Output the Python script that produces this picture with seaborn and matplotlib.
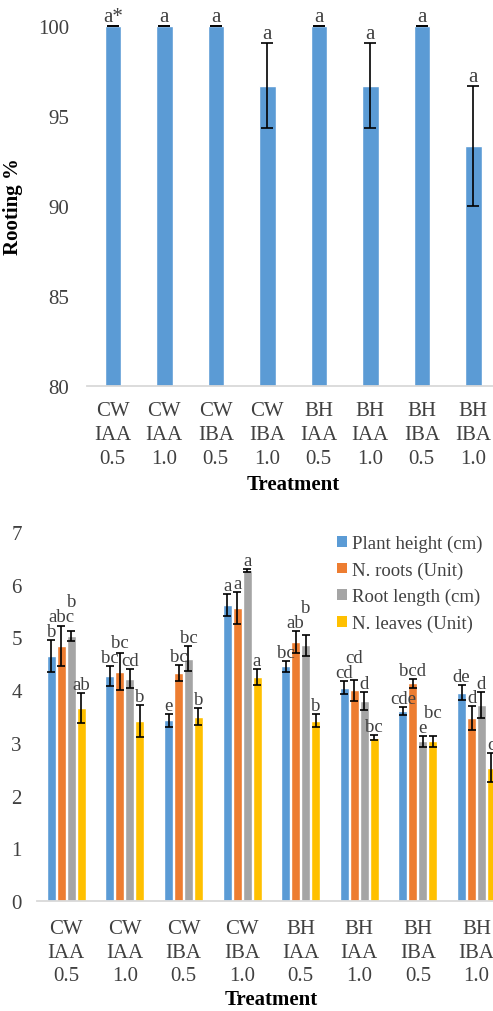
import pandas as pd
import numpy as np
import matplotlib.pyplot as plt
import seaborn as sns
from matplotlib.patches import Patch

# ── Data ─────────────────────────────────────────────────────
treatments = ["CW\nIAA\n0.5", "CW\nIAA\n1.0", "CW\nIBA\n0.5", "CW\nIBA\n1.0",
              "BH\nIAA\n0.5", "BH\nIAA\n1.0", "BH\nIBA\n0.5", "BH\nIBA\n1.0"]

rooting = [100, 100, 100, 96.67, 100, 96.67, 100, 93.33]
rooting_err = [0, 0, 0, 2.36, 0, 2.36, 0, 3.33]
rooting_letters = ["a*", "a", "a", "a", "a", "a", "a", "a"]

traits = ["Plant height (cm)", "N. roots (Unit)",
          "Root length (cm)", "N. leaves (Unit)"]

plant_height = [4.65, 4.27, 3.43, 5.62, 4.45, 4.05, 3.60, 3.95]
plant_height_err = [0.30, 0.19, 0.12, 0.21, 0.11, 0.12, 0.08, 0.14]
plant_height_letters = ["b", "bc", "e", "a", "bc", "cd", "cde", "de"]

n_roots = [4.83, 4.35, 4.33, 5.56, 4.92, 4.00, 4.13, 3.47]
n_roots_err = [0.38, 0.35, 0.15, 0.30, 0.21, 0.20, 0.08, 0.22]
n_roots_letters = ["abc", "bc", "bc", "a", "ab", "cd", "bcd", "d"]

root_length = [5.03, 4.22, 4.60, 6.27, 4.85, 3.80, 3.03, 3.72]
root_length_err = [0.10, 0.18, 0.23, 0.03, 0.20, 0.17, 0.10, 0.25]
root_length_letters = ["b", "cd", "bc", "a", "b", "d", "e", "d"]

n_leaves = [3.66, 3.42, 3.50, 4.25, 3.42, 3.10, 3.03, 2.53]
n_leaves_err = [0.29, 0.30, 0.17, 0.15, 0.12, 0.05, 0.10, 0.28]
n_leaves_letters = ["ab", "b", "b", "a", "b", "bc", "bc", "c"]

colors = ["#5B9BD5", "#ED7D31", "#A5A5A5", "#FFC000"]

# ── Style ────────────────────────────────────────────────────
sns.set_theme(style="white")
plt.rcParams['font.family'] = ['Liberation Serif', 'DejaVu Serif']
plt.rcParams['text.color'] = '#404040'
plt.rcParams['xtick.color'] = '#404040'
plt.rcParams['ytick.color'] = '#404040'

fig = plt.figure(figsize=(4.93, 10.12), dpi=100)
ax1 = fig.add_axes([0.1765, 0.6176, 0.8357, 0.3557])
ax2 = fig.add_axes([0.075, 0.1087, 0.951, 0.3646])


def style_axis(ax):
    for s in ['left', 'top', 'right']:
        ax.spines[s].set_visible(False)
    ax.spines['bottom'].set_color('#D9D9D9')
    ax.spines['bottom'].set_linewidth(1.3)
    ax.tick_params(axis='both', length=0, labelsize=15)
    for lab in ax.get_xticklabels():
        lab.set_linespacing(1.33)


# ── Top: Rooting % ───────────────────────────────────────────
df_root = pd.DataFrame({'treatment': treatments, 'rooting': rooting})
sns.barplot(data=df_root, x='treatment', y='rooting', color=colors[0],
            width=0.32, saturation=1, errorbar=None, ax=ax1)
ax1.set_ylim(80, 100)
ax1.set_xlim(-0.5, 7.5)
ax1.set_yticks([80, 85, 90, 95, 100])
style_axis(ax1)
ax1.tick_params(axis='y', pad=13)
ax1.tick_params(axis='x', pad=11)

for bar, err, lab in zip(ax1.patches, rooting_err, rooting_letters):
    xc = bar.get_x() + bar.get_width() / 2
    h = bar.get_height()
    ax1.errorbar(xc, h, yerr=err, fmt='none', ecolor='black',
                 elinewidth=1.2, capsize=4, capthick=1.2, clip_on=False)
    ax1.annotate(lab, (xc, h + err), xytext=(0, 0),
                 textcoords='offset points', ha='center', va='bottom',
                 fontsize=15, annotation_clip=False)

ax1.set_ylabel('Rooting %', fontsize=15, fontweight='bold', color='black')
ax1.yaxis.set_label_coords(-0.155, 0.5)
ax1.set_xlabel('Treatment', fontsize=15, fontweight='bold', color='black')
ax1.xaxis.set_label_coords(0.5, -0.272)
ax1.xaxis.label.set_va('center')

# ── Bottom: growth traits ────────────────────────────────────
df_traits = pd.DataFrame({
    'treatment': treatments * 4,
    'trait': np.repeat(traits, len(treatments)),
    'value': plant_height + n_roots + root_length + n_leaves,
})
errors = [plant_height_err, n_roots_err, root_length_err, n_leaves_err]
letters = [plant_height_letters, n_roots_letters,
           root_length_letters, n_leaves_letters]

sns.barplot(data=df_traits, x='treatment', y='value', hue='trait',
            hue_order=traits, palette=colors, width=0.68, gap=0.1,
            saturation=1, errorbar=None, legend=False, ax=ax2)
ax2.set_ylim(0, 7)
ax2.set_xlim(-0.5, 7.5)
ax2.set_yticks(range(8))
style_axis(ax2)
ax2.tick_params(axis='y', pad=11)
ax2.tick_params(axis='x', pad=13)

label_texts = []
for cont, errs, labs in zip(ax2.containers, errors, letters):
    row = []
    for bar, err, lab in zip(cont, errs, labs):
        xc = bar.get_x() + bar.get_width() / 2
        h = bar.get_height()
        ax2.errorbar(xc, h, yerr=err, fmt='none', ecolor='black',
                     elinewidth=1.2, capsize=3, capthick=1.2, clip_on=False)
        t = ax2.annotate(lab, (xc, h + err), xytext=(0, 0),
                         textcoords='offset points', ha='center', va='bottom',
                         fontsize=13.5, annotation_clip=False)
        row.append(t)
    label_texts.append(row)

# nudge letter labels upward inside a group so they don't collide
fig.canvas.draw()
renderer = fig.canvas.get_renderer()
for g in range(len(treatments)):
    placed = []
    for row in label_texts:
        t = row[g]
        for _ in range(10):
            bb = t.get_window_extent(renderer)
            moved = False
            for p in placed:
                if bb.x0 < p.x1 and bb.x1 > p.x0 and \
                        bb.y0 < p.y1 - 2 and bb.y1 > p.y0:
                    dy = (p.y1 - 2 - bb.y0) * 72 / fig.dpi
                    t.xyann = (t.xyann[0], t.xyann[1] + dy)
                    moved = True
                    break
            if not moved:
                break
        placed.append(t.get_window_extent(renderer))

ax2.set_ylabel('')
ax2.set_xlabel('Treatment', fontsize=15, fontweight='bold', color='black')
ax2.xaxis.set_label_coords(0.5, -0.265)
ax2.xaxis.label.set_va('center')

handles = [Patch(facecolor=c, edgecolor='none') for c in colors]
ax2.legend(handles, traits, loc='upper left', bbox_to_anchor=(0.665, 0.48),
           bbox_transform=fig.transFigure, frameon=False, fontsize=13.5,
           handlelength=0.5, handleheight=0.5, handletextpad=0.3,
           labelspacing=0.5, borderpad=0)

fig.savefig('out.png', dpi=100)
